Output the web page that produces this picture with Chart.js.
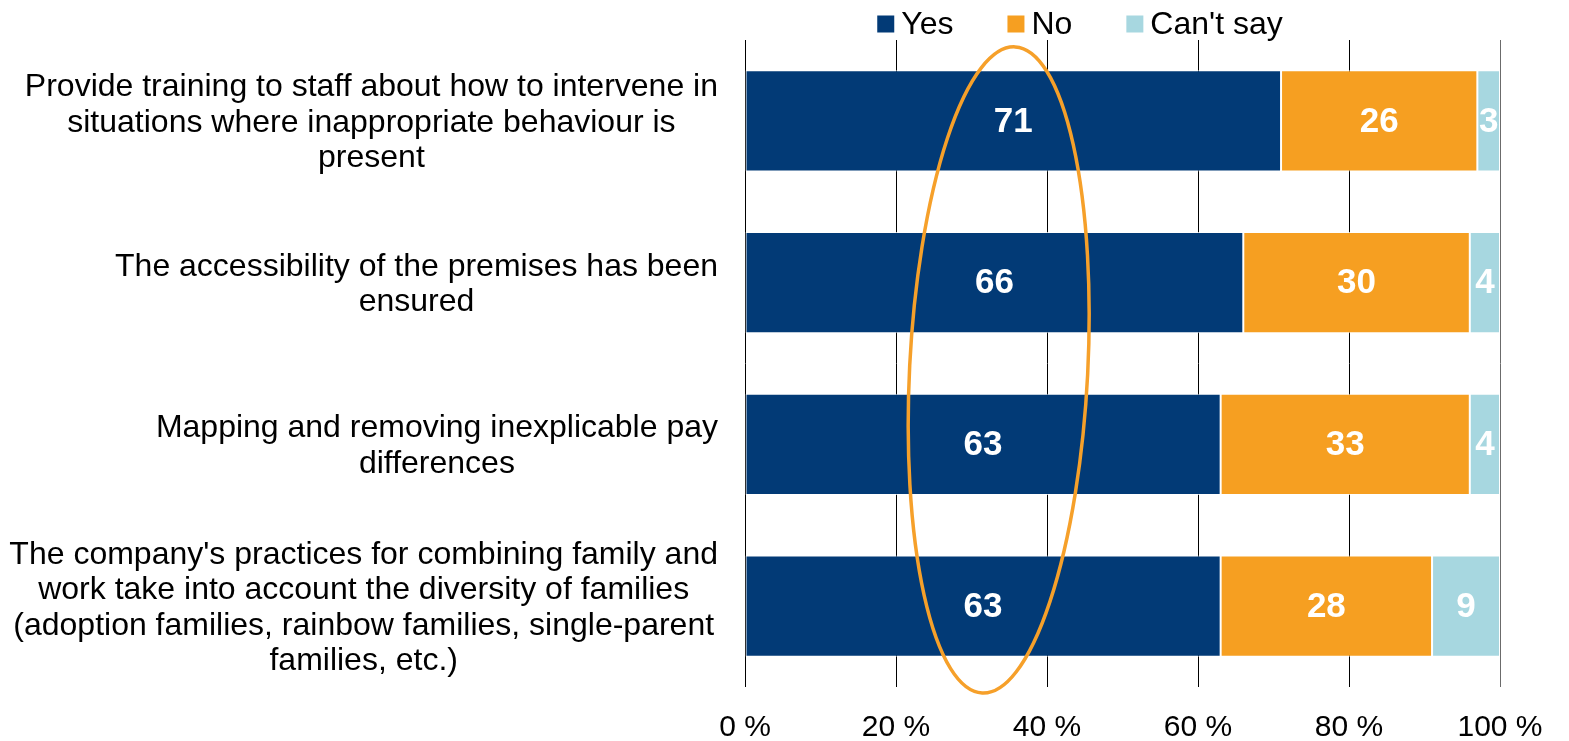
<!DOCTYPE html>
<html>
<head>
<meta charset="utf-8">
<script src="https://cdn.jsdelivr.net/npm/chart.js@4/dist/chart.umd.min.js"></script>
<style>
  html, body { margin: 0; padding: 0; background: #ffffff; }
  #wrap { width: 1569px; height: 741px; }
</style>
</head>
<body>
<div id="wrap"><canvas id="chart" width="1569" height="741"></canvas></div>
<script>
// Survey statements, one array of text lines per bar
const categories = [
  ['Provide training to staff about how to intervene in', 'situations where inappropriate behaviour is', 'present'],
  ['The accessibility of the premises has been', 'ensured'],
  ['Mapping and removing inexplicable pay', 'differences'],
  ["The company's practices for combining family and", 'work take into account the diversity of families',
   '(adoption families, rainbow families, single-parent', 'families, etc.)']
];

const seriesNames = ['Yes', 'No', "Can't say"];
const yesValues = [71, 66, 63, 63];
const noValues = [26, 30, 33, 28];
const cantSayValues = [3, 4, 4, 9];
const tickLabels = ['0 %', '20 %', '40 %', '60 %', '80 %', '100 %'];

const colors = ['#023a76', '#f69f21', '#a7d7e0'];
const FONT = "'Liberation Sans', Arial, sans-serif";

// Highlight oval around the "Yes" column, in axis units (percent / category index)
const oval = { centerPct: 33.6, centerCat: 1.54, halfWidthPct: 11.8, halfHeightCat: 2.0, tilt: 0.051 };

// Category labels: each label is a block right-aligned to the axis, lines centred within it
const categoryLabelsPlugin = {
  id: 'categoryLabels',
  afterDraw(chart) {
    const ctx = chart.ctx;
    const yScale = chart.scales.y;
    const right = chart.chartArea.left - 27;
    const lineH = 35.5;
    ctx.save();
    ctx.font = '32px ' + FONT;
    ctx.fillStyle = '#000000';
    ctx.textAlign = 'center';
    ctx.textBaseline = 'middle';
    categories.forEach((lines, i) => {
      const widest = Math.max(...lines.map(l => ctx.measureText(l).width));
      const cx = right - widest / 2;
      const cy = yScale.getPixelForValue(i) + 2;
      const top = cy - (lines.length - 1) * lineH / 2;
      lines.forEach((l, k) => ctx.fillText(l, cx, top + k * lineH));
    });
    ctx.restore();
  }
};

// Values written inside each bar segment
const segmentLabelsPlugin = {
  id: 'segmentLabels',
  afterDatasetsDraw(chart) {
    const ctx = chart.ctx;
    ctx.save();
    ctx.font = 'bold 35px ' + FONT;
    ctx.fillStyle = '#ffffff';
    ctx.textAlign = 'center';
    ctx.textBaseline = 'middle';
    chart.data.datasets.forEach((ds, di) => {
      const meta = chart.getDatasetMeta(di);
      meta.data.forEach((bar, i) => {
        const p = bar.getProps(['x', 'y', 'base'], true);
        ctx.fillText(String(ds.data[i]), (p.x + p.base) / 2, p.y + 1);
      });
    });
    ctx.restore();
  }
};

// Orange oval drawn over the bars
const ovalPlugin = {
  id: 'oval',
  afterDatasetsDraw(chart) {
    const ctx = chart.ctx;
    const xs = chart.scales.x, ys = chart.scales.y;
    const cx = xs.getPixelForValue(oval.centerPct);
    const cy = ys.getPixelForValue(oval.centerCat);
    const rx = xs.getPixelForValue(oval.centerPct + oval.halfWidthPct) - cx;
    const ry = ys.getPixelForValue(oval.centerCat + oval.halfHeightCat) - cy;
    ctx.save();
    ctx.strokeStyle = '#f6a02a';
    ctx.lineWidth = 3.5;
    ctx.beginPath();
    ctx.ellipse(cx, cy, rx, ry, oval.tilt, 0, Math.PI * 2);
    ctx.stroke();
    ctx.restore();
  }
};

// Legend row above the plot
const legendPlugin = {
  id: 'topLegend',
  afterDraw(chart) {
    const ctx = chart.ctx;
    const box = 17, gap = 7, spacing = 54;
    ctx.save();
    ctx.font = '32px ' + FONT;
    ctx.textBaseline = 'middle';
    ctx.textAlign = 'left';
    const widths = seriesNames.map(n => box + gap + ctx.measureText(n).width);
    const total = widths.reduce((a, b) => a + b, 0) + spacing * (widths.length - 1);
    let x = 1080 - total / 2;
    const y = 24;
    seriesNames.forEach((n, i) => {
      ctx.fillStyle = colors[i];
      ctx.fillRect(x, y - box / 2, box, box);
      ctx.fillStyle = '#000000';
      ctx.fillText(n, x + box + gap, y + 1);
      x += widths[i] + spacing;
    });
    ctx.restore();
  }
};

const seriesValues = [yesValues, noValues, cantSayValues];

new Chart(document.getElementById('chart'), {
  type: 'bar',
  data: {
    labels: categories,
    datasets: seriesNames.map((name, i) => ({
      label: name,
      data: seriesValues[i],
      backgroundColor: colors[i],
      borderColor: 'rgba(255,255,255,0.75)',
      borderWidth: 1,
      borderSkipped: false,
      barPercentage: 0.625,
      categoryPercentage: 1
    }))
  },
  options: {
    indexAxis: 'y',
    responsive: false,
    animation: false,
    layout: { padding: { top: 40, right: 69, bottom: 0, left: 0 } },
    plugins: {
      legend: { display: false },
      tooltip: { enabled: false }
    },
    scales: {
      x: {
        stacked: true,
        min: 0,
        max: 100,
        border: { display: false },
        grid: {
          drawTicks: false,
          lineWidth: 1,
          color: ctx => ctx.index === tickLabels.length - 1 ? '#6b6b6b' : '#000000'
        },
        ticks: {
          stepSize: 20,
          padding: 23,
          color: '#000000',
          font: { family: FONT, size: 30 },
          callback: (v, i) => tickLabels[i]
        },
        afterFit(scale) { scale.height = 54; }
      },
      y: {
        stacked: true,
        border: { display: false },
        grid: { display: false },
        ticks: { display: false },
        afterFit(scale) { scale.width = 745; }
      }
    }
  },
  plugins: [categoryLabelsPlugin, segmentLabelsPlugin, ovalPlugin, legendPlugin]
});
</script>
</body>
</html>
